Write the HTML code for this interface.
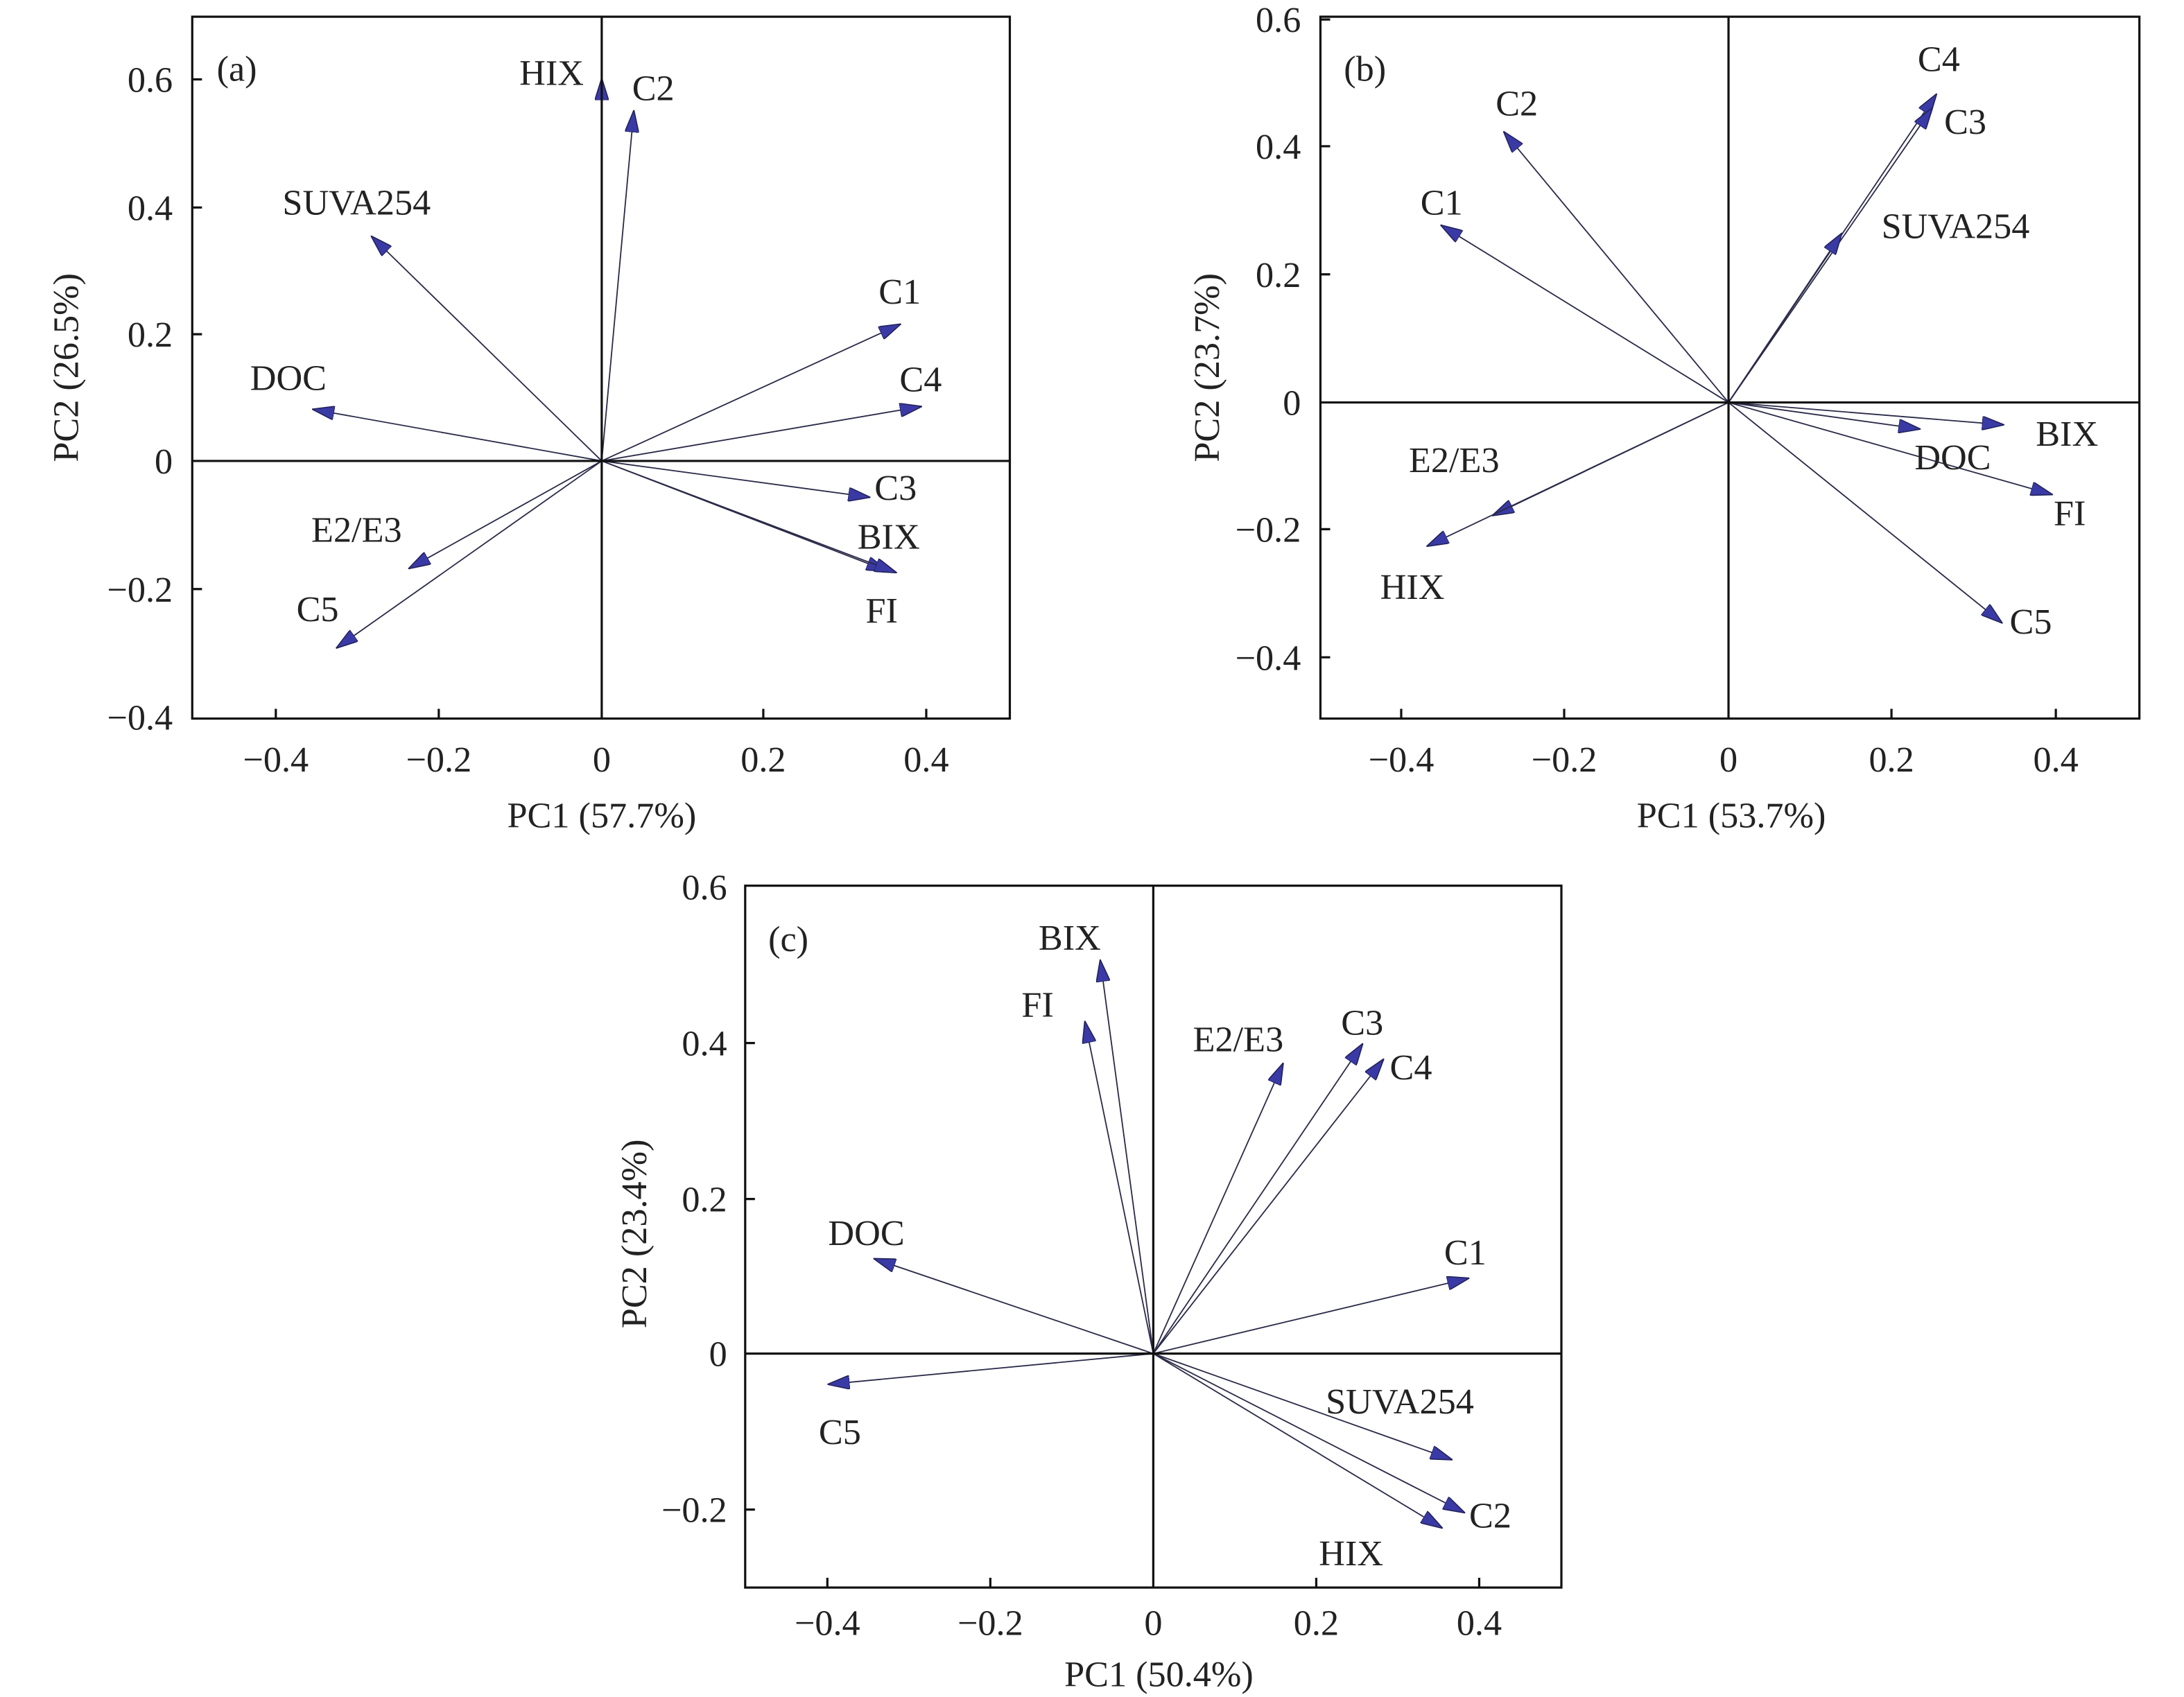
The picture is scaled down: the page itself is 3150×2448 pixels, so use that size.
<!DOCTYPE html>
<html><head><meta charset="utf-8"><style>html,body{margin:0;padding:0;background:#fff}svg{display:block}</style></head>
<body>
<svg xmlns="http://www.w3.org/2000/svg" width="3150" height="2448" viewBox="0 0 1568 1218.6" font-family="Liberation Serif, serif" font-size="26" fill="#222">
<defs>
<marker id="ah" viewBox="0 0 16 10" refX="15" refY="5" markerWidth="16" markerHeight="10" markerUnits="userSpaceOnUse" orient="auto">
<path d="M0,0 L16,5 L0,10 z" fill="#3a3aa6" stroke="#22225a" stroke-width="0.8"/>
</marker>
</defs>
<g stroke="#2a2a48" stroke-width="0.9" fill="none" marker-end="url(#ah)">
<line x1="432" y1="331" x2="432" y2="57"/>
<line x1="432" y1="331" x2="455" y2="80"/>
<line x1="432" y1="331" x2="267" y2="170"/>
<line x1="432" y1="331" x2="646" y2="233"/>
<line x1="432" y1="331" x2="661" y2="292"/>
<line x1="432" y1="331" x2="225" y2="294"/>
<line x1="432" y1="331" x2="624" y2="357"/>
<line x1="432" y1="331" x2="637" y2="410"/>
<line x1="432" y1="331" x2="643" y2="411"/>
<line x1="432" y1="331" x2="294" y2="408"/>
<line x1="432" y1="331" x2="242" y2="465"/>
<line x1="1241" y1="289" x2="1390" y2="68"/>
<line x1="1241" y1="289" x2="1387" y2="78"/>
<line x1="1241" y1="289" x2="1322" y2="168"/>
<line x1="1241" y1="289" x2="1080" y2="95"/>
<line x1="1241" y1="289" x2="1035" y2="162"/>
<line x1="1241" y1="289" x2="1438" y2="305"/>
<line x1="1241" y1="289" x2="1378" y2="308"/>
<line x1="1241" y1="289" x2="1473" y2="355"/>
<line x1="1241" y1="289" x2="1437" y2="447"/>
<line x1="1241" y1="289" x2="1072" y2="370"/>
<line x1="1241" y1="289" x2="1025" y2="392"/>
<line x1="828" y1="972" x2="790" y2="690"/>
<line x1="828" y1="972" x2="779" y2="734"/>
<line x1="828" y1="972" x2="921" y2="764"/>
<line x1="828" y1="972" x2="978" y2="750"/>
<line x1="828" y1="972" x2="993" y2="761"/>
<line x1="828" y1="972" x2="1054" y2="918"/>
<line x1="828" y1="972" x2="628" y2="904"/>
<line x1="828" y1="972" x2="595" y2="994"/>
<line x1="828" y1="972" x2="1042" y2="1048"/>
<line x1="828" y1="972" x2="1051" y2="1086"/>
<line x1="828" y1="972" x2="1035" y2="1097"/>
</g>
<g stroke="#111" stroke-width="1.6" fill="none">
<rect x="138" y="12" width="587" height="504"/>
<line x1="138" y1="331" x2="725" y2="331"/><line x1="432" y1="12" x2="432" y2="516"/>
<path d="M198,516v-7M315,516v-7M548,516v-7M665,516v-7M138,57h7M138,149h7M138,240h7M138,423h7"/>
<rect x="948" y="12" width="588" height="504"/>
<line x1="948" y1="289" x2="1536" y2="289"/><line x1="1241" y1="12" x2="1241" y2="516"/>
<path d="M1006,516v-7M1123,516v-7M1358,516v-7M1476,516v-7M948,14h7M948,105h7M948,197h7M948,380h7M948,472h7"/>
<rect x="535" y="636" width="586" height="504"/>
<line x1="535" y1="972" x2="1121" y2="972"/><line x1="828" y1="636" x2="828" y2="1140"/>
<path d="M594,1140v-7M711,1140v-7M945,1140v-7M1062,1140v-7M535,749h7M535,861h7M535,1084h7"/>
</g>
<g text-anchor="end">
<text x="124" y="66">0.6</text><text x="124" y="158">0.4</text><text x="124" y="249">0.2</text><text x="124" y="340">0</text><text x="124" y="432">−0.2</text><text x="124" y="524">−0.4</text>
<text x="934" y="23">0.6</text><text x="934" y="114">0.4</text><text x="934" y="206">0.2</text><text x="934" y="298">0</text><text x="934" y="389">−0.2</text><text x="934" y="481">−0.4</text>
<text x="522" y="646">0.6</text><text x="522" y="758">0.4</text><text x="522" y="870">0.2</text><text x="522" y="981">0</text><text x="522" y="1093">−0.2</text>
</g>
<g text-anchor="middle">
<text x="198" y="554">−0.4</text><text x="315" y="554">−0.2</text><text x="432" y="554">0</text><text x="548" y="554">0.2</text><text x="665" y="554">0.4</text>
<text x="1006" y="554">−0.4</text><text x="1123" y="554">−0.2</text><text x="1241" y="554">0</text><text x="1358" y="554">0.2</text><text x="1476" y="554">0.4</text>
<text x="594" y="1174">−0.4</text><text x="711" y="1174">−0.2</text><text x="828" y="1174">0</text><text x="945" y="1174">0.2</text><text x="1062" y="1174">0.4</text>
<text x="432" y="594">PC1 (57.7%)</text><text x="1243" y="594">PC1 (53.7%)</text><text x="832" y="1211">PC1 (50.4%)</text>
<text transform="translate(56,264) rotate(-90)">PC2 (26.5%)</text>
<text transform="translate(875,264) rotate(-90)">PC2 (23.7%)</text>
<text transform="translate(464,886) rotate(-90)">PC2 (23.4%)</text>
<text x="170" y="58">(a)</text><text x="396" y="61">HIX</text><text x="469" y="72">C2</text><text x="256" y="154">SUVA254</text><text x="646" y="218">C1</text><text x="661" y="281">C4</text><text x="207" y="280">DOC</text><text x="643" y="359">C3</text><text x="638" y="394">BIX</text><text x="633" y="447">FI</text><text x="256" y="389">E2/E3</text><text x="228" y="446">C5</text>
<text x="980" y="58">(b)</text><text x="1392" y="51">C4</text><text x="1411" y="96">C3</text><text x="1089" y="83">C2</text><text x="1035" y="154">C1</text><text x="1404" y="171">SUVA254</text><text x="1484" y="320">BIX</text><text x="1402" y="337">DOC</text><text x="1486" y="377">FI</text><text x="1458" y="455">C5</text><text x="1044" y="339">E2/E3</text><text x="1014" y="430">HIX</text>
<text x="566" y="683">(c)</text><text x="768" y="682">BIX</text><text x="745" y="730">FI</text><text x="889" y="755">E2/E3</text><text x="978" y="743">C3</text><text x="1013" y="775">C4</text><text x="1052" y="908">C1</text><text x="622" y="894">DOC</text><text x="603" y="1037">C5</text><text x="1005" y="1015">SUVA254</text><text x="1070" y="1097">C2</text><text x="970" y="1124">HIX</text>
</g>
</svg>
</body></html>
